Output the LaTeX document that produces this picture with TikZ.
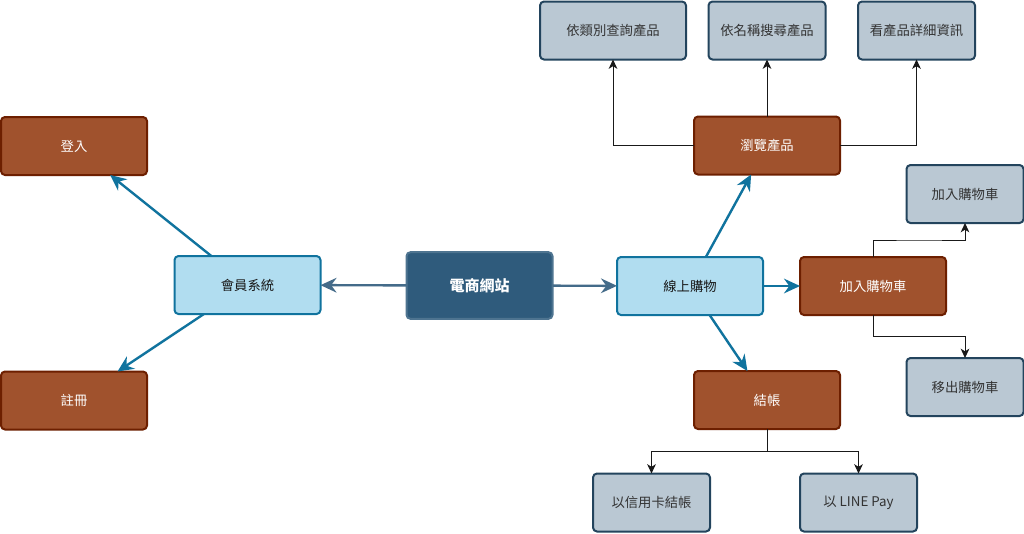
\documentclass[tikz,border=0pt]{standalone}
\usepackage{fontspec}
\setmainfont{Noto Sans CJK TC}
\usepackage{xcolor}
\usepackage{tikz}
\usetikzlibrary{arrows.meta,calc}

\definecolor{brownfill}{HTML}{A0522D}
\definecolor{brownline}{HTML}{6D1F00}
\definecolor{grayfill}{HTML}{BAC8D3}
\definecolor{grayline}{HTML}{23445D}
\definecolor{skyfill}{HTML}{B1DDF0}
\definecolor{skyline}{HTML}{10739E}
\definecolor{navyfill}{HTML}{2F5B7C}

\begin{document}
\begin{tikzpicture}[x=0.75pt, y=-0.75pt,
  box/.style={rounded corners=3pt, line width=1.5pt, inner sep=0pt, outer sep=0pt,
    minimum width=109.5pt, minimum height=43.5pt, font=\fontsize{10}{12}\selectfont},
  brownbox/.style={box, fill=brownfill, draw=brownline, text=white},
  graybox/.style={box, fill=grayfill, draw=grayline, text=black!80},
  smallbox/.style={graybox, minimum width=87.75pt},
  skybox/.style={box, fill=skyfill, draw=skyline, text=black!90},
  hubbox/.style={box, fill=navyfill, draw=navyfill!85!white, text=white,
    minimum height=50pt, font=\fontsize{11.25}{13}\selectfont\bfseries},
  hubarrow/.style={-{Stealth[length=12pt,width=11pt,inset=4pt]}, line width=1.8pt, draw=navyfill!90!white},
  skyarrow/.style={-{Stealth[length=12pt,width=11pt,inset=4pt]}, line width=1.8pt, draw=skyline},
  thinarrow/.style={-{Stealth[length=7pt,width=6.5pt,inset=2pt]}, line width=0.75pt, draw=black!90}]
\fill[white] (0,0) rectangle (1024,533);
\useasboundingbox (0,0) rectangle (1024,533);

\node[hubbox] (web) at (479.5,285.5) {電商網站};
\node[skybox] (member) at (247.5,285) {會員系統};
\node[skybox] (shop) at (690,286) {線上購物};
\node[brownbox] (login) at (74,146) {登入};
\node[brownbox] (register) at (74,400.5) {註冊};
\node[brownbox] (browse) at (767,145.5) {瀏覽產品};
\node[brownbox] (cart) at (873,286) {加入購物車};
\node[brownbox] (checkout) at (767,400) {結帳};
\node[graybox] (bycat) at (613,30.5) {依類別查詢產品};
\node[smallbox] (byname) at (767,30.5) {依名稱搜尋產品};
\node[smallbox] (detail) at (916.5,30.5) {看產品詳細資訊};
\node[smallbox] (cartadd) at (965,194) {加入購物車};
\node[smallbox] (cartdel) at (965,387) {移出購物車};
\node[smallbox] (credit) at (651.5,502.5) {以信用卡結帳};
\node[smallbox] (linepay) at (858.5,502.5) {以 LINE Pay};

\draw[hubarrow] (web) -- (member);
\draw[hubarrow] (web) -- (shop);
\draw[skyarrow] (member) -- (login);
\draw[skyarrow] (member) -- (register);
\draw[skyarrow] (shop) -- (browse);
\draw[skyarrow] (shop) -- (cart);
\draw[skyarrow] (shop) -- (checkout);

\draw[thinarrow] (browse.west) -| (bycat.south);
\draw[thinarrow] (browse.north) -- (byname.south);
\draw[thinarrow] (browse.east) -| (detail.south);
\draw[thinarrow] (cart.north) |- ($(cart.north)!0.5!(cartadd.south)$) -| (cartadd.south);
\draw[thinarrow] (cart.south) |- ($(cart.south)!0.5!(cartdel.north)$) -| (cartdel.north);
\draw[thinarrow] (checkout.south) |- ($(checkout.south)!0.5!(credit.north)$) -| (credit.north);
\draw[thinarrow] (checkout.south) |- ($(checkout.south)!0.5!(linepay.north)$) -| (linepay.north);
\end{tikzpicture}
\end{document}
